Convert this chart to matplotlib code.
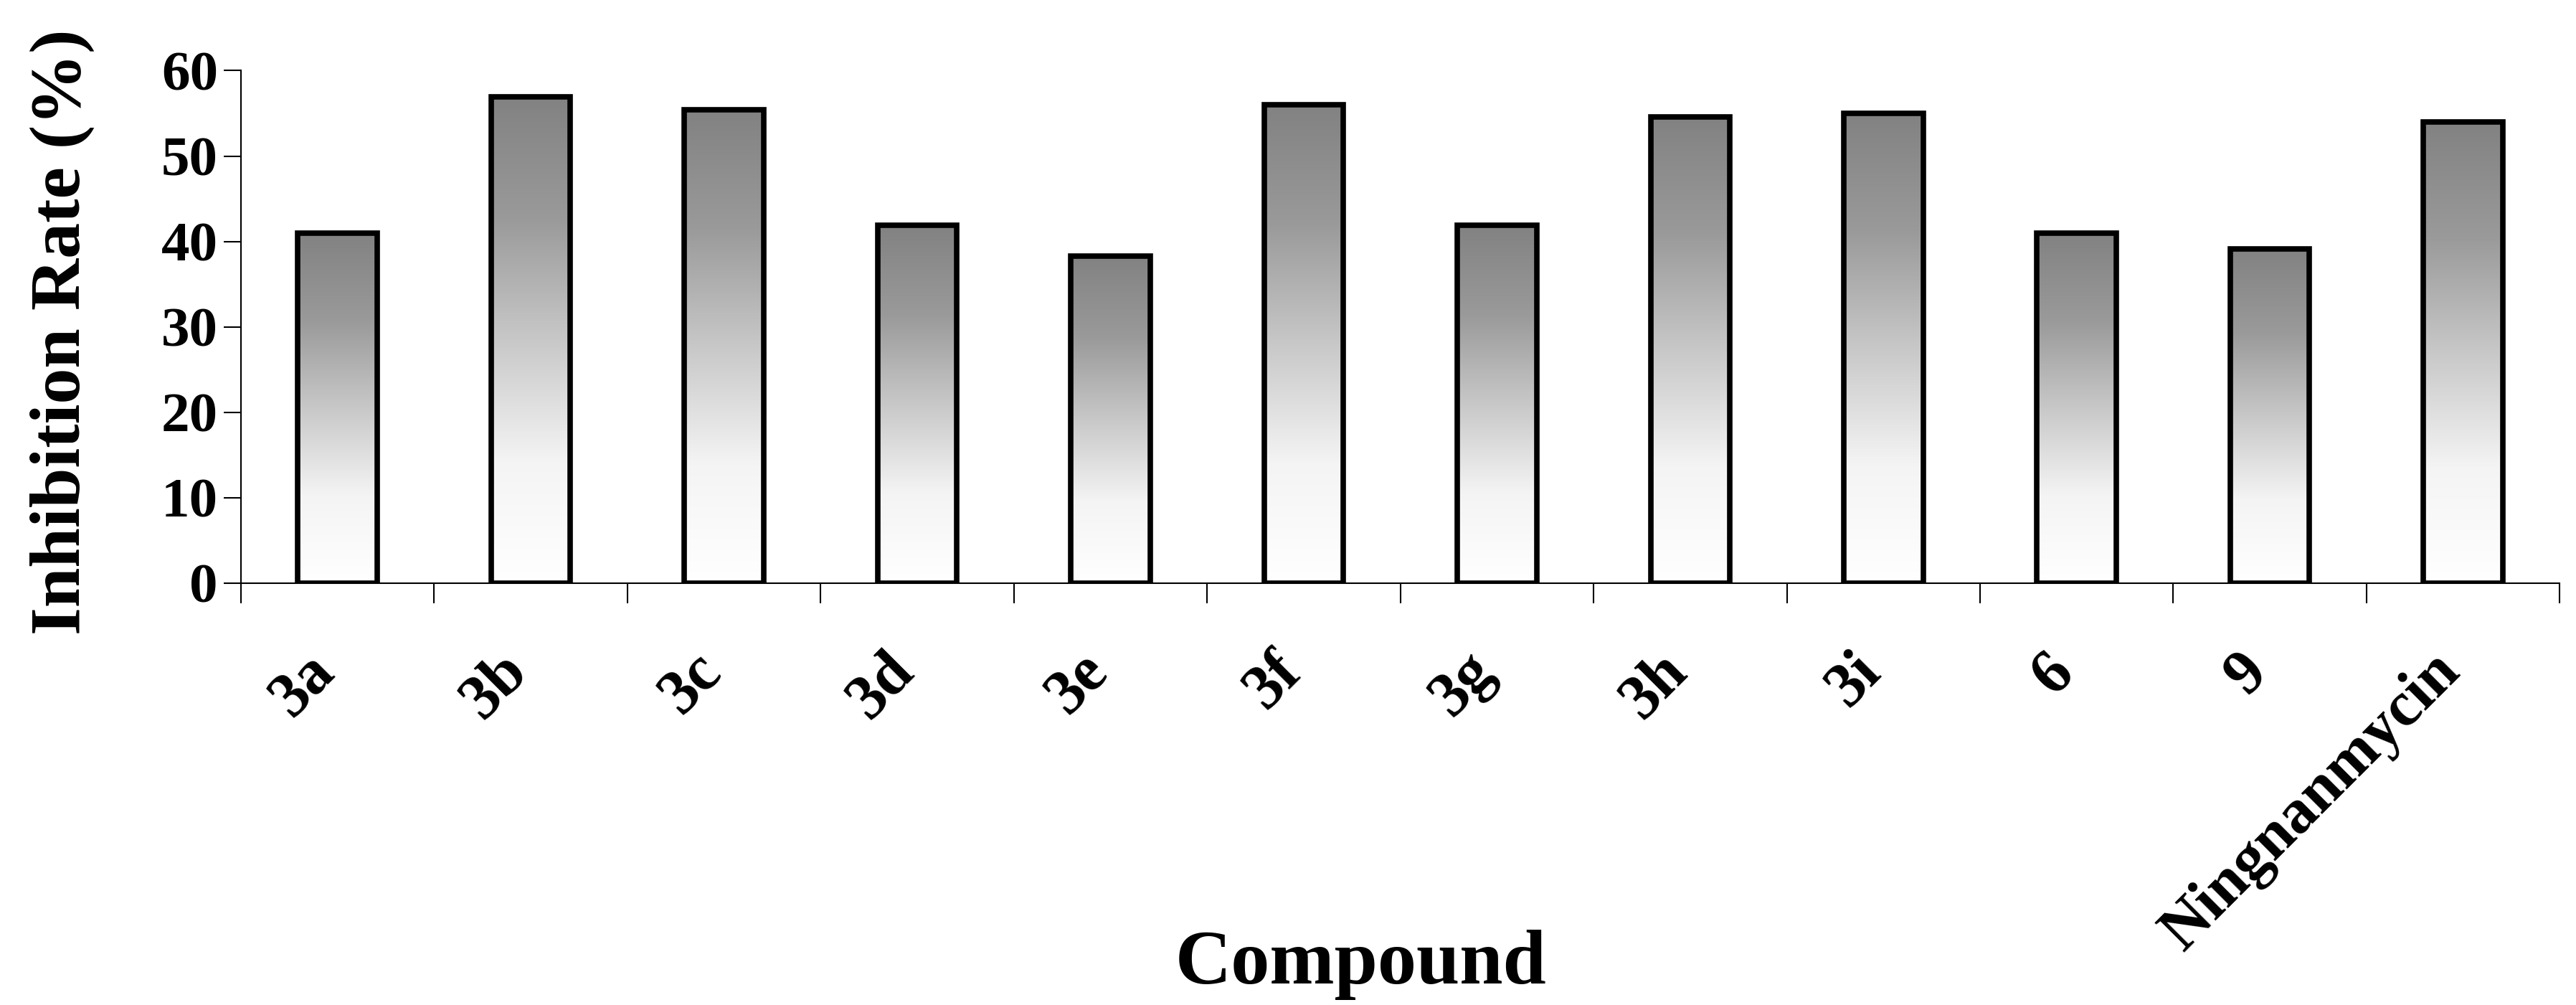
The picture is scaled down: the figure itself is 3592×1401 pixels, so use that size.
import numpy as np
import matplotlib
matplotlib.use("Agg")
import matplotlib.pyplot as plt
import matplotlib.transforms as mtransforms

compounds = ["3a", "3b", "3c", "3d", "3e", "3f", "3g", "3h", "3i", "6", "9", "Ningnanmycin"]
rates = [41.0, 56.9, 55.4, 41.9, 38.3, 56.0, 41.9, 54.6, 55.0, 41.0, 39.1, 54.0]
yticks = [0, 10, 20, 30, 40, 50, 60]

plt.rcParams["font.family"] = ["Liberation Serif", "DejaVu Serif"]
plt.rcParams["font.weight"] = "bold"

fig = plt.figure(figsize=(35.92, 14.01), dpi=100)
ax = fig.add_axes([0.0935, 0.42, 0.9002, 0.5097])

x = np.arange(len(compounds))
bars = ax.bar(x, rates, width=0.41, facecolor="none", edgecolor="black", linewidth=5.5, zorder=3)

# vertical gray-to-white gradient inside each bar
grad = np.linspace(0, 1, 256).reshape(-1, 1)
cmap = matplotlib.colors.LinearSegmentedColormap.from_list("g", ["#ffffff", "#f4f4f4", "#c8c8c8", "#9a9a9a", "#828282"])
for b in bars:
    x0, w, h = b.get_x(), b.get_width(), b.get_height()
    im = ax.imshow(grad, cmap=cmap, aspect="auto", origin="lower",
                   extent=(x0, x0 + w, 0, h), zorder=2, vmin=0, vmax=1)
    im.set_clip_path(b)

ax.set_xlim(-0.5, len(compounds) - 0.5)
ax.set_ylim(0, 60)
ax.set_yticks(yticks)
ax.set_yticklabels([str(t) for t in yticks], fontsize=57, fontweight="bold")

ax.set_xticks(np.arange(len(compounds) + 1) - 0.5)
ax.set_xticklabels([""] * (len(compounds) + 1))
ax.set_xticks(x, minor=True)
ax.set_xticklabels(compounds, minor=True, rotation=45, ha="right", va="center",
                   rotation_mode="anchor", fontsize=63, fontweight="bold")
ax.tick_params(axis="x", which="minor", length=0, pad=80)
ax.tick_params(axis="x", which="major", direction="out", length=20, width=1.5)
ax.tick_params(axis="y", direction="out", length=17, width=1.5, pad=6)

shift = mtransforms.ScaledTranslation(-0.17, 0, fig.dpi_scale_trans)
for lab in ax.get_xticklabels(minor=True):
    lab.set_transform(lab.get_transform() + shift)

for s in ["top", "right"]:
    ax.spines[s].set_visible(False)
for s in ["left", "bottom"]:
    ax.spines[s].set_linewidth(1.5)

ax.set_ylabel("Inhibition Rate (%)", fontsize=72, fontweight="bold")
ax.yaxis.set_label_coords(-0.063, 0.49)
ax.set_xlabel("Compound", fontsize=78, fontweight="bold")
ax.xaxis.set_label_coords(0.483, -0.677)

fig.savefig("out.png", dpi=100)
